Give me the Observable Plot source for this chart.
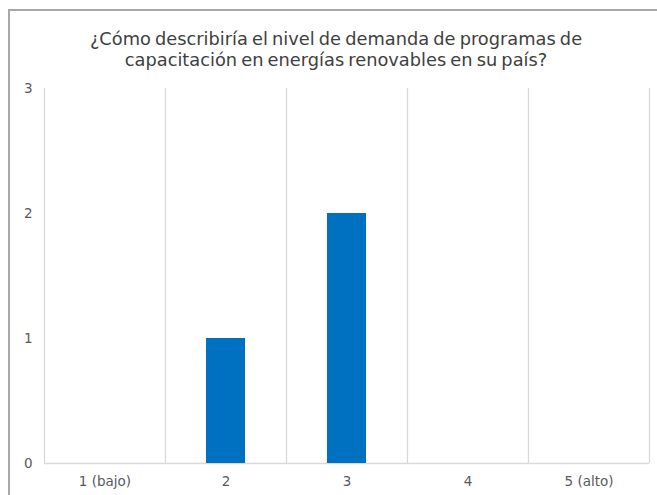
<!DOCTYPE html>
<html>
<head>
<meta charset="utf-8">
<script src="https://cdn.jsdelivr.net/npm/d3@7"></script>
<script src="https://cdn.jsdelivr.net/npm/@observablehq/plot@0.6"></script>
<style>
  html, body { margin: 0; padding: 0; background: #fff; }
  #wrap { position: relative; width: 657px; height: 495px; overflow: hidden; background: #fff; font-family: "DejaVu Sans", sans-serif; }
  #frame { position: absolute; left: 8px; top: 9px; width: 800px; height: 800px; border-left: 2px solid #a8a8a8; border-top: 2px solid #a8a8a8; }
  #title { position: absolute; left: 0; top: 28px; width: 672px; text-align: center; font-size: 17.8px; line-height: 21px; color: #404040; word-spacing: -1.5px; }
  #chart { position: absolute; left: 0; top: 0; }
</style>
</head>
<body>
<div id="wrap">
  <div id="frame"></div>
  <div id="chart"></div>
  <div id="title">¿Cómo describiría el nivel de demanda de programas de<br>capacitación en energías renovables en su país?</div>
</div>
<script>
const categories = ["1 (bajo)", "2", "3", "4", "5 (alto)"];
const counts = [0, 1, 2, 0, 0];
const yTicks = [0, 1, 2, 3];

const data = categories.map((c, i) => ({pos: i + 1, label: c, value: counts[i]}));
const boundaries = [...categories.map((c, i) => i + 0.5), categories.length + 0.5];

const chart = Plot.plot({
  width: 657,
  height: 495,
  marginLeft: 44,
  marginRight: 8,
  marginTop: 88,
  marginBottom: 32,
  style: {fontFamily: "DejaVu Sans, sans-serif", fontSize: "13.5px", color: "#595959", background: "transparent"},
  x: {domain: [0.5, categories.length + 0.5]},
  y: {domain: [0, 3]},
  marks: [
    Plot.ruleX(boundaries, {x: d => d, y1: 0, y2: 3, stroke: "#d9d9d9", strokeWidth: 1.3}),
    Plot.ruleY([0], {stroke: "#d9d9d9", strokeWidth: 1.3}),
    Plot.rectY(data.filter(d => d.value > 0), {x1: d => d.pos - 0.5, x2: d => d.pos + 0.5, y1: 0, y2: "value", fill: "#0070C0", insetLeft: 41, insetRight: 41}),
    Plot.axisY({ticks: yTicks, tickSize: 0, tickPadding: 12, tickFormat: d => String(d), label: null, fill: "#595959"}),
    Plot.axisX({ticks: data.map(d => d.pos), tickSize: 0, tickPadding: 13, tickFormat: p => categories[p - 1], label: null, fill: "#595959"})
  ]
});
document.getElementById("chart").appendChild(chart);
</script>
</body>
</html>
